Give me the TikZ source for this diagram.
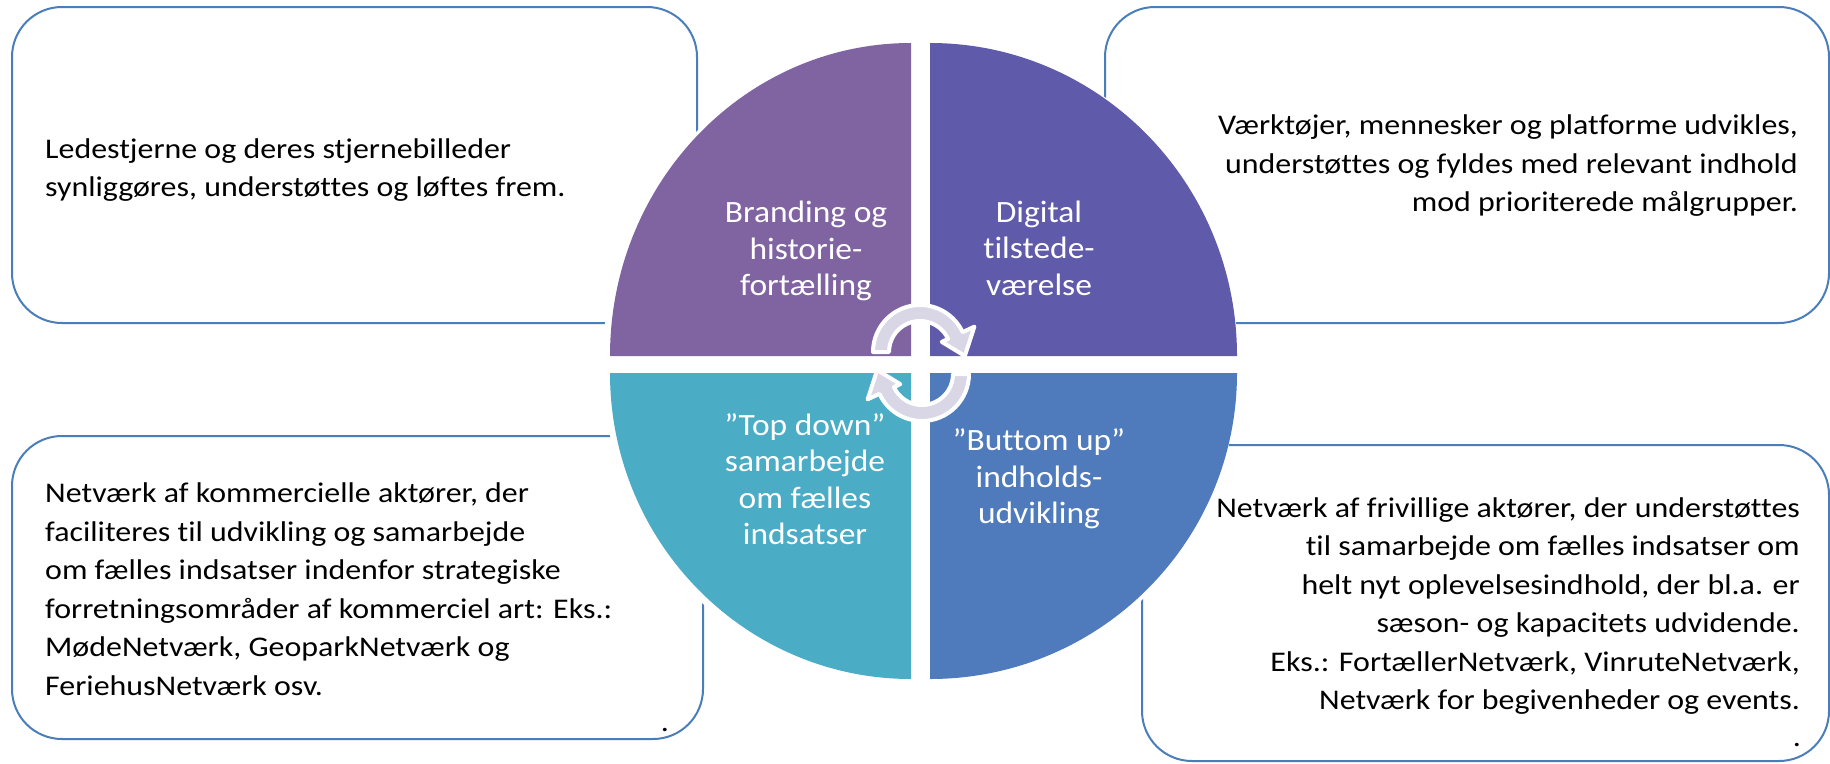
\documentclass[tikz,border=0pt]{standalone}
\usepackage{fontspec}
\setmainfont{Carlito}[FakeStretch=1.12, Ligatures={NoCommon}]
\newfontfamily\qfont{Carlito}[FakeStretch=1.08, Ligatures={NoCommon}]
\usetikzlibrary{calc}
\definecolor{boxline}{HTML}{4A7EBB}
\definecolor{qpurple}{HTML}{8064A2}
\definecolor{qindigo}{HTML}{5F5BAA}
\definecolor{qteal}{HTML}{4BACC6}
\definecolor{qblue}{HTML}{4F7BBC}
\definecolor{arrowfill}{HTML}{D9D6E6}
\begin{document}
\begin{tikzpicture}[x=1pt,y=-1pt,
  infobox/.style={draw=boxline, line width=2pt, rounded corners=50pt, inner sep=0pt, outer sep=0pt},
  boxtext/.style={inner sep=0pt, font=\fontsize{28.5}{38.5}\selectfont, text=black},
  quadtext/.style={inner sep=0pt, align=center, text=white, font=\qfont\fontsize{31}{36.5}\selectfont},
  cyclearrow/.style={fill=arrowfill, draw=white, line width=4pt, line join=round}]
\useasboundingbox (0,0) rectangle (1830,763);
\fill[white] (0,0) rectangle (1830,763);

% outer boxes
\node[infobox, minimum width=685pt, minimum height=316pt] (boxTL) at (354.5,165) {};
\node[infobox, minimum width=724pt, minimum height=316pt] (boxTR) at (1467,165) {};
\node[infobox, minimum width=691pt, minimum height=303pt] (boxBL) at (357.5,587.5) {};
\node[infobox, minimum width=687pt, minimum height=316pt] (boxBR) at (1485.5,603) {};

% white halo behind the pie
\fill[white] (920.5,364.5) ellipse [x radius=318pt, y radius=328pt];

% quadrants
\fill[qpurple] (911,356) -- (610,356) arc[start angle=180, end angle=90, x radius=301pt, y radius=313pt] -- cycle;
\fill[qindigo] (930,356) -- (930,43) arc[start angle=90, end angle=0, x radius=307pt, y radius=313pt] -- cycle;
\fill[qteal] (911,373) -- (911,679) arc[start angle=270, end angle=180, x radius=301pt, y radius=306pt] -- cycle;
\fill[qblue] (930,373) -- (1237,373) arc[start angle=0, end angle=-90, x radius=307pt, y radius=306pt] -- cycle;

% quadrant labels
\node[quadtext] (qTL) at (806,251) {Branding og\\historie-\\fortælling};
\node[quadtext] (qTR) at (1039,248) {Digital\\tilstede-\\værelse};
\node[quadtext] (qBL) at (805,479) {”Top down”\\samarbejde\\om fælles\\indsatser};
\node[quadtext] (qBR) at (1039,479) {”Buttom up”\\indholds-\\udvikling};

% cycle arrows
\coordinate (c1) at (920,352);
\coordinate (c2) at (922,374);
\path[cyclearrow] ($(c1)+(180:47pt)$) arc[start angle=180, end angle=25, radius=47pt]
  -- ($(c1)+(25:60pt)$) -- ($(c1)+(-5:45pt)$) -- ($(c1)+(25:24pt)$)
  -- ($(c1)+(25:31pt)$) arc[start angle=25, end angle=180, radius=31pt] -- cycle;
\path[cyclearrow] ($(c2)+(0:47pt)$) arc[start angle=0, end angle=-155, radius=47pt]
  -- ($(c2)+(-155:60pt)$) -- ($(c2)+(-185:45pt)$) -- ($(c2)+(-155:24pt)$)
  -- ($(c2)+(-155:31pt)$) arc[start angle=-155, end angle=0, radius=31pt] -- cycle;

% box texts
\node[boxtext, anchor=west, align=left] (tTL) at (45,170)
  {Ledestjerne og deres stjernebilleder\\synliggøres, understøttes og løftes frem.};
\node[boxtext, anchor=east, align=right] (tTR) at (1798,166)
  {Værktøjer, mennesker og platforme udvikles,\\understøttes og fyldes med relevant indhold\\mod prioriterede målgrupper.};
\node[boxtext, anchor=west, align=left] (tBL) at (45,589)
  {Netværk af kommercielle aktører, der\\faciliteres til udvikling og samarbejde\\om fælles indsatser indenfor strategiske\\forretningsområder af kommerciel art: Eks.:\\MødeNetværk, GeoparkNetværk og\\FeriehusNetværk osv.};
\node[boxtext, anchor=east, align=right] (tBR) at (1800,606)
  {Netværk af frivillige aktører, der understøttes\\til samarbejde om fælles indsatser om\\helt nyt oplevelsesindhold, der bl.a. er\\sæson- og kapacitets udvidende.\\Eks.: FortællerNetværk, VinruteNetværk,\\Netværk for begivenheder og events.};
\node[boxtext] (dotBL) at (665,730) {.};
\node[boxtext] (dotBR) at (1797,745) {.};
\end{tikzpicture}
\end{document}
